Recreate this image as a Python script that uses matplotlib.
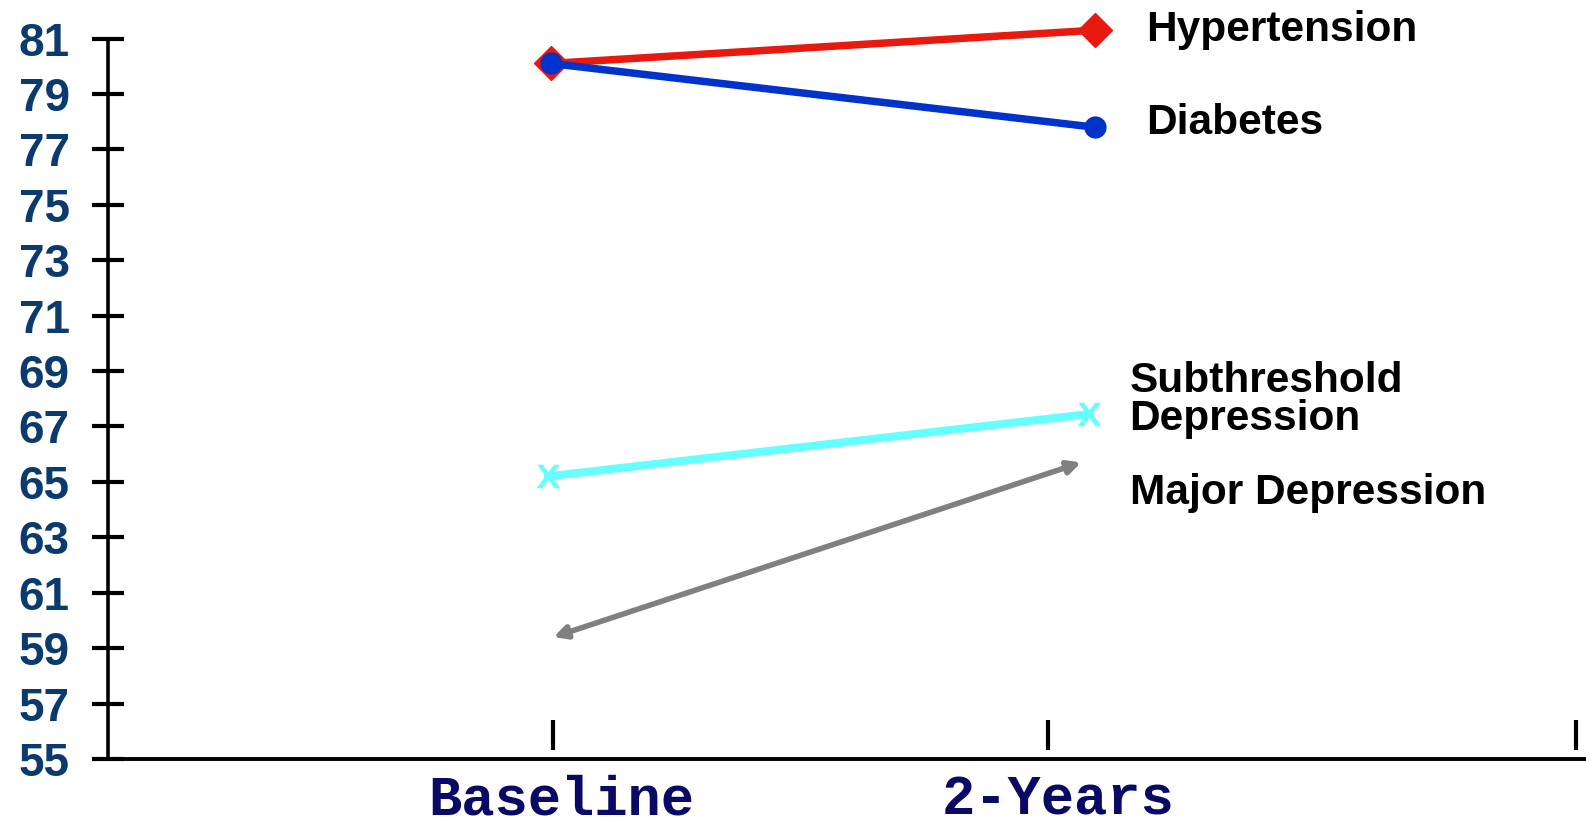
import matplotlib
matplotlib.use("Agg")
from matplotlib import pyplot as plt

# values
periods = ["Baseline", "2-Years"]
hyper = [80.1, 81.3]
diab = [80.1, 77.8]
subdep = [65.2, 67.45]
majdep = [59.4, 65.7]

yticks = list(range(55, 82, 2))

fig = plt.figure(figsize=(15.86, 8.27), dpi=100)
ax = fig.add_axes([0.068, 0.0822, 0.932, 0.8712])

x = [0, 1]

ax.plot(x, hyper, color="#E8190F", lw=5.4, marker="D", ms=17,
        clip_on=False, zorder=3)
ax.plot(x, diab, color="#0033CC", lw=5.4, marker="o", ms=15,
        clip_on=False, zorder=4)
ax.plot([-0.005, 0.99], subdep, color="#66FFFF", lw=5.8, marker=r"$\mathtt{x}$",
        ms=16, mew=1, clip_on=False, zorder=3)
ax.annotate("", xy=(0.975, majdep[1]), xytext=(0.005, majdep[0]),
            arrowprops=dict(arrowstyle="<|-|>,head_length=0.75,head_width=0.38",
                            color="#808080", lw=4, shrinkA=0, shrinkB=0))

# series labels on the right
lab = dict(fontsize=30.5, fontweight="bold", family="Liberation Sans",
           color="black", va="center", ha="left")
ax.text(1.094, 81.3, "Hypertension", **lab)
ax.text(1.094, 77.95, "Diabetes", **lab)
ax.text(1.064, 67.95, "Subthreshold\nDepression", linespacing=0.95, **lab)
ax.text(1.064, 64.6, "Major Depression", **lab)

ax.set_xlim(-0.814, 1.903)
ax.set_ylim(55, 81)

ax.set_yticks(yticks)
ax.set_yticklabels([str(v) for v in yticks], fontsize=33, fontweight="bold",
                   family="Liberation Sans", color="#0B3A6E")
ax.tick_params(axis="y", direction="inout", length=23, width=3, pad=16)

# category ticks sit just above the axis line
ax.vlines([0.004, 0.915, 1.884], 55.33, 56.42, color="black", lw=3)
ax.set_xticks([0.02, 0.932])
ax.set_xticklabels(periods, fontsize=40, fontweight="bold",
                   family="Liberation Mono", color="#0A0A66")
ax.tick_params(axis="x", length=0, pad=11)

for s in ["top", "right"]:
    ax.spines[s].set_visible(False)
ax.spines["left"].set_linewidth(2.6)
ax.spines["bottom"].set_linewidth(2.8)

fig.savefig("out.png", dpi=100)
